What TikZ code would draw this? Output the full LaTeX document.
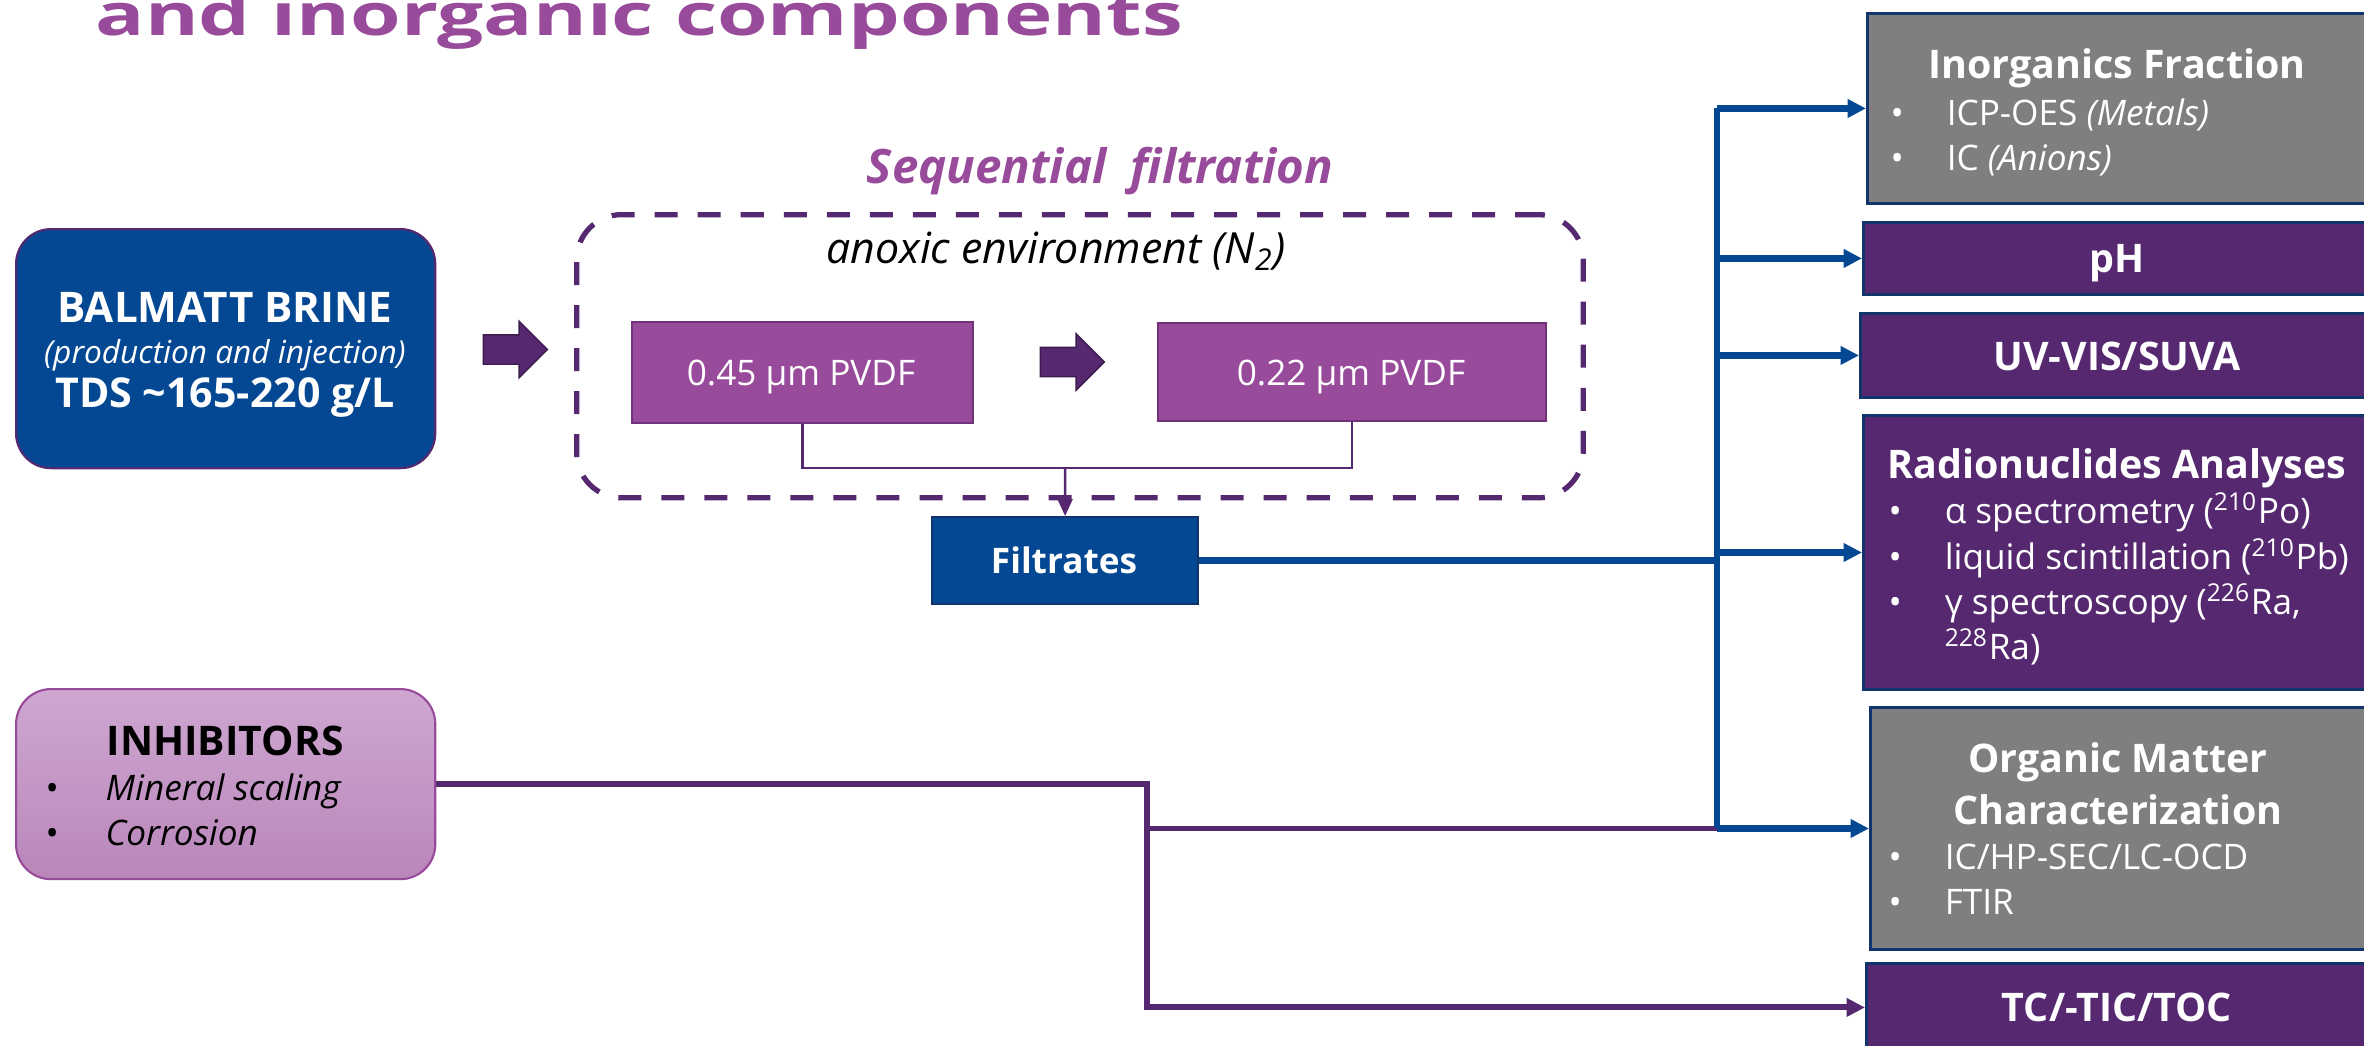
\documentclass[tikz,border=0pt]{standalone}
\usepackage{fontspec}
\setmainfont{Open Sans}
\usepackage{xcolor}
\usepackage{tikz}
\usetikzlibrary{arrows.meta, shapes.arrows}

\definecolor{brineblue}{RGB}{4,72,147}
\definecolor{deeppurple}{RGB}{86,40,112}
\definecolor{midpurple}{RGB}{152,75,155}
\definecolor{filteredge}{RGB}{112,50,122}
\definecolor{boxgray}{RGB}{127,127,127}
\definecolor{navyedge}{RGB}{18,52,108}
\definecolor{inhibtop}{RGB}{206,167,209}
\definecolor{inhibbot}{RGB}{186,134,186}

\newcommand{\bul}{\makebox[5.6mm][l]{\textbullet}}

\begin{document}
\begin{tikzpicture}[x=0.01cm,y=-0.01cm,>={Triangle[length=5.2pt,width=5pt]},line join=miter,
		box/.style={rectangle, inner sep=0pt, anchor=north west},
		darkbox/.style={box, fill=deeppurple, draw=navyedge, line width=0.8pt},
		greybox/.style={box, fill=boxgray, draw=navyedge, line width=0.8pt},
		filterbox/.style={box, fill=midpurple, draw=filteredge, line width=0.6pt},
		bluebox/.style={box, fill=brineblue, draw=navyedge, line width=0.6pt},
		txt/.style={inner sep=0pt, anchor=base},
		headtxt/.style={txt, text=white, font=\fontsize{11.2}{13}\selectfont\bfseries},
		itemtxt/.style={txt, anchor=base west, text=white, font=\fontsize{10}{12}\selectfont},
		blueline/.style={brineblue, line width=1.8pt},
		purpline/.style={deeppurple, line width=1.7pt},
		thinline/.style={deeppurple, line width=0.7pt},
		blockarrow/.style={single arrow, fill=deeppurple, draw=deeppurple!70!black, line width=0.4pt,
			inner sep=1.4mm, minimum height=6.4mm, minimum width=5.5mm, single arrow head extend=1.35mm}]
		\clip (0,0) rectangle (2364,1045);
		\fill[white] (0,0) rectangle (2364,1045);

		% title, cut at the top
		\node[txt, anchor=base west, text=midpurple, font=\fontsize{16.5}{18}\selectfont\bfseries] (title) at (95,35) {\scalebox{1.41}[1]{and inorganic components}};

		% sources
		\node[bluebox, draw=deeppurple, rounded corners=3.5mm, minimum width=41.9mm, minimum height=23.9mm] (brine) at (15,228) {};
		\node[txt, text=white, font=\fontsize{12}{14}\selectfont\bfseries] (brine1) at (225,322) {BALMATT BRINE};
		\node[txt, text=white, font=\fontsize{9}{11}\selectfont\itshape] (brine2) at (225,363) {(production and injection)};
		\node[txt, text=white, font=\fontsize{11.7}{14}\selectfont\bfseries] (brine3) at (225,407) {TDS \textasciitilde165-220 g/L};

		\node[box, draw=midpurple, line width=0.6pt, top color=inhibtop, bottom color=inhibbot, rounded corners=3.5mm, minimum width=41.9mm, minimum height=19mm] (inhib) at (15,688) {};
		\node[txt, font=\fontsize{11.6}{13}\selectfont\bfseries] (inhib1) at (225,755) {INHIBITORS};
		\foreach \n/\y/\t in {1/800/{Mineral scaling}, 2/845/{Corrosion}}
			\node[txt, anchor=base west, font=\fontsize{10}{12}\selectfont] (inhib-\n) at (45,\y) {\makebox[6mm][l]{\textbullet}\textit{\t}};

		% sequential filtration
		\node[txt, text=midpurple, font=\fontsize{13.5}{15}\selectfont\bfseries\itshape] (seq) at (1100,183) {Sequential\ \ filtration};
		\node[box, draw=deeppurple, line width=1.5pt, dash pattern=on 2.3mm off 2mm, rounded corners=4.5mm, minimum width=100.6mm, minimum height=28.3mm] (env) at (574,212) {};
		\node[txt, font=\fontsize{12.2}{14}\selectfont\itshape] (anox) at (1056,263) {anoxic environment (N\textsubscript{2})};

		\node[blockarrow] (arr1) at (508,349.5) {};
		\node[filterbox, minimum width=34.1mm, minimum height=10.1mm] (f045) at (631,321) {};
		\node[txt, text=white, font=\fontsize{10}{12}\selectfont] (f045t) at (801,385) {0.45 µm PVDF};
		\node[blockarrow] (arr2) at (1065,362) {};
		\node[filterbox, minimum width=38.8mm, minimum height=9.8mm] (f022) at (1157,322) {};
		\node[txt, text=white, font=\fontsize{10}{12}\selectfont] (f022t) at (1351,385) {0.22 µm PVDF};

		\node[bluebox, minimum width=26.6mm, minimum height=8.7mm] (filt) at (931,516) {};
		\node[txt, text=white, font=\fontsize{10}{12}\selectfont\bfseries] (filtt) at (1064,573) {Filtrates};

		% analyses
		\node[greybox, minimum width=50.6mm, minimum height=19mm] (inorg) at (1866,12) {};
		\node[headtxt] (inorgt) at (2117,78) {Inorganics Fraction};
		\foreach \n/\y/\t in {1/125/{ICP-OES \textit{(Metals)}}, 2/170/{IC \textit{(Anions)}}}
			\node[itemtxt] (inorg-\n) at (1890,\y) {\bul\t};

		\node[darkbox, minimum width=51mm, minimum height=7.2mm] (ph) at (1862,221) {};
		\node[headtxt] (pht) at (2117,272) {pH};

		\node[darkbox, minimum width=51.3mm, minimum height=8.4mm] (uv) at (1859,312) {};
		\node[headtxt] (uvt) at (2117,370) {UV-VIS/SUVA};

		\node[darkbox, minimum width=51mm, minimum height=27.4mm] (radio) at (1862,414) {};
		\node[headtxt] (radiot) at (2117,478) {Radionuclides Analyses};
		\foreach \n/\y/\t in {1/523/{α spectrometry (\textsuperscript{210}Po)}, 2/569/{liquid scintillation (\textsuperscript{210}Pb)}, 3/614/{γ spectroscopy (\textsuperscript{226}Ra,}}
			\node[itemtxt] (radio-\n) at (1888,\y) {\bul\t};
		\node[itemtxt] (radio-4) at (1888,659) {\makebox[5.6mm]{}\textsuperscript{228}Ra)};

		\node[greybox, minimum width=50.3mm, minimum height=24.2mm] (org) at (1869,706) {};
		\node[headtxt] (orgt1) at (2118,772) {Organic Matter};
		\node[headtxt] (orgt2) at (2118,824) {Characterization};
		\foreach \n/\y/\t in {1/869/{IC/HP-SEC/LC-OCD}, 2/914/{FTIR}}
			\node[itemtxt] (org-\n) at (1888,\y) {\bul\t};

		\node[darkbox, minimum width=50.7mm, minimum height=8.8mm] (tc) at (1865,962) {};
		\node[headtxt] (tct) at (2117,1021) {TC/-TIC/TOC};

		% connectors
		\coordinate (jnf) at (1065,468);
		\coordinate (bus) at (1717,0);
		\coordinate (jn) at (1147,0);

		\draw[thinline] (f045.south) |- (jnf);
		\draw[thinline] (f022.south) |- (jnf);
		\draw[thinline, ->, >={Triangle[length=4.8pt,width=4.2pt]}] (jnf) -- (filt.north);

		\draw[purpline] (jn |- org.west) -- (bus |- org.west);
		\draw[purpline, ->] (inhib.east) -- (inhib.east -| jn) -- (jn |- tc.west) -- (tc.west);

		\draw[blueline] (filt.east) -- (filt.east -| bus);
		\draw[blueline] (bus |- inorg.west) -- (bus |- org.west);
		\draw[blueline, ->] (bus |- inorg.west) -- (inorg.west);
		\draw[blueline, ->] (bus |- ph.west) -- (ph.west);
		\draw[blueline, ->] (bus |- uv.west) -- (uv.west);
		\draw[blueline, ->] (bus |- radio.west) -- (radio.west);
		\draw[blueline, ->] (bus |- org.west) -- (org.west);
	\end{tikzpicture}
\end{document}
